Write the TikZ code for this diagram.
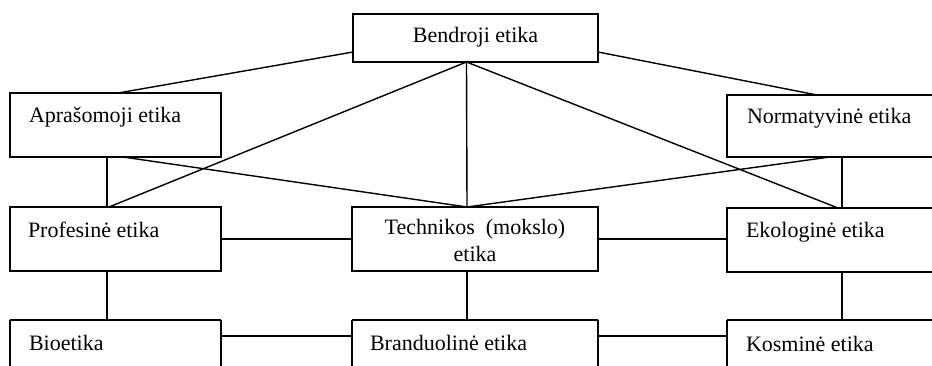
\documentclass[tikz,border=0pt]{standalone}
\usepackage{fontspec}
\setmainfont{Liberation Serif}
\usetikzlibrary{calc}
\tikzset{
  box/.style={draw, line width=1.4pt, rectangle, inner sep=0pt, outer sep=0pt},
  openbox/.style={rectangle, inner sep=0pt, outer sep=0pt},
  lbl/.style={inner sep=0pt, outer sep=0pt, font=\fontsize{22}{27}\selectfont, anchor=base west},
  conn/.style={line width=1.4pt},
  thickedge/.style={line width=2.4pt}
}
\begin{document}
\begin{tikzpicture}[x=1pt,y=-1pt]
\useasboundingbox[fill=white] (0,0) rectangle (932,366);
% boxes
\node[box, minimum width=245pt, minimum height=48pt] (bend) at (475.5,38) {};
\node[box, minimum width=211pt, minimum height=64pt] (apr) at (115.5,125) {};
\node[box, minimum width=207pt, minimum height=62pt] (norm) at (830.5,126) {};
\node[box, minimum width=211pt, minimum height=64pt] (prof) at (115.5,239) {};
\node[box, minimum width=246pt, minimum height=64pt] (tech) at (475,239) {};
\node[box, minimum width=207pt, minimum height=64pt] (eko) at (830.5,240) {};
\draw[thickedge] (eko.south west) -- (eko.south east);
% open bottom boxes
\node[openbox, minimum width=211pt, minimum height=50pt] (bio) at (115.5,345) {};
\node[openbox, minimum width=246pt, minimum height=50pt] (bran) at (475,345) {};
\node[openbox, minimum width=207pt, minimum height=50pt] (kos) at (830.5,345) {};
\foreach \b in {bio,bran,kos}{
  \draw[conn] (\b.south west) -- (\b.north west);
  \draw[conn] (\b.south east) -- (\b.north east);
  \draw[thickedge] (\b.north west) -- (\b.north east);
}
% texts
\node[lbl, anchor=base] (tbend) at (475.5,43) {Bendroji etika};
\node[lbl] (tapr) at (29,123) {Aprašomoji etika};
\node[lbl] (tnorm) at (747,124) {Normatyvinė etika};
\node[lbl] (tprof) at (28,238) {Profesinė etika};
\node[lbl, anchor=center, align=center] (ttech) at (475,240.5) {Technikos\ \ (mokslo)\\etika};
\node[lbl] (teko) at (746,238) {Ekologinė etika};
\node[lbl] (tbio) at (29,350) {Bioetika};
\node[lbl] (tbran) at (370,350) {Branduolinė etika};
\node[lbl] (tkos) at (746,351) {Kosminė etika};
% connection points
\coordinate (bb) at ([xshift=-9pt]bend.south);
\coordinate (tt) at ([xshift=-8pt]tech.north);
% connectors
\draw[conn] ([yshift=10pt]bend.south west) -- ([xshift=108pt]apr.north west);
\draw[conn] ([yshift=10pt]bend.south east) -- ([xshift=90pt]norm.north west);
\draw[conn] (bb) -- ([xshift=99pt]prof.north west);
\draw[conn] (bb) -- (tt);
\draw[conn] (bb) -- ([xshift=111pt]eko.north west);
\draw[conn] ([xshift=113pt]apr.south west) -- (tt);
\draw[conn] ([xshift=103pt]norm.south west) -- (tt);
\draw[conn] ([xshift=97pt]apr.south west) -- ([xshift=97pt]prof.north west);
\draw[conn] ([xshift=115pt]norm.south west) -- ([xshift=115pt]eko.north west);
\draw[conn] (prof.east) -- (tech.west);
\draw[conn] (tech.east) -- (tech.east -| eko.west);
\draw[conn] ([xshift=97pt]prof.south west) -- ([xshift=97pt]bio.north west);
\draw[conn] ([xshift=-8pt]tech.south) -- ([xshift=-8pt]bran.north);
\draw[conn] ([xshift=115pt]eko.south west) -- ([xshift=115pt]kos.north west);
\draw[conn] ([yshift=9pt]bio.east) -- ([yshift=9pt]bran.west);
\draw[conn] ([yshift=9pt]bran.east) -- ([yshift=9pt]kos.west);
\end{tikzpicture}
\end{document}
